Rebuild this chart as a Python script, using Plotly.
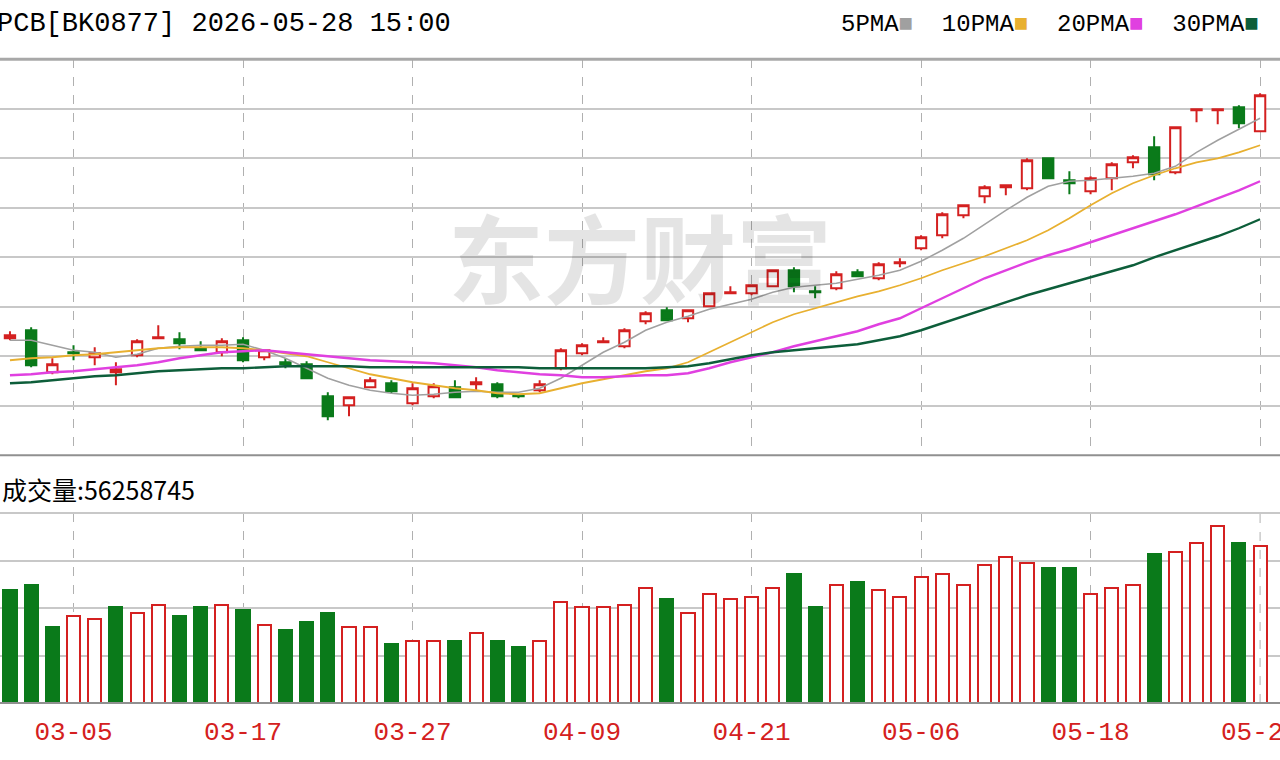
import plotly.graph_objects as go

# daily bars, index 0..59 (03-02 .. 05-28)
opens = [1117, 1125, 1083, 1103, 1098, 1083, 1100, 1117, 1116, 1107, 1103, 1115, 1098, 1093, 1091, 1059, 1050, 1068, 1072, 1052,
         1059, 1068, 1071, 1071, 1060, 1065, 1087, 1102, 1113, 1109, 1134, 1145, 1137, 1149, 1162, 1162, 1169, 1185, 1164, 1167,
         1183, 1177, 1192, 1207, 1220, 1240, 1259, 1268, 1267, 1297, 1275, 1264, 1277, 1293, 1308, 1283, 1345, 1345, 1348, 1324]
highs = [1124, 1128, 1097, 1110, 1108, 1093, 1116, 1130, 1123, 1114, 1117, 1118, 1106, 1097, 1094, 1063, 1058, 1078, 1075, 1072,
         1072, 1075, 1078, 1073, 1061, 1075, 1107, 1112, 1118, 1127, 1144, 1148, 1146, 1163, 1169, 1171, 1186, 1188, 1169, 1184,
         1186, 1193, 1197, 1220, 1243, 1251, 1270, 1270, 1297, 1298, 1284, 1279, 1293, 1300, 1319, 1328, 1346, 1346, 1350, 1362]
lows = [1115, 1088, 1081, 1095, 1090, 1070, 1098, 1117, 1106, 1104, 1099, 1093, 1095, 1087, 1076, 1035, 1039, 1067, 1062, 1050,
        1057, 1057, 1065, 1057, 1057, 1063, 1085, 1100, 1113, 1107, 1131, 1134, 1133, 1148, 1162, 1160, 1168, 1163, 1157, 1165,
        1179, 1175, 1188, 1205, 1217, 1237, 1252, 1260, 1265, 1277, 1261, 1261, 1265, 1287, 1275, 1281, 1333, 1331, 1327, 1324]
closes = [1120, 1090, 1091, 1102, 1102, 1086, 1114, 1118, 1112, 1105, 1114, 1095, 1105, 1091, 1077, 1039, 1058, 1075, 1064, 1067,
          1069, 1058, 1073, 1059, 1059, 1071, 1105, 1110, 1114, 1125, 1142, 1135, 1145, 1162, 1163, 1170, 1185, 1169, 1163, 1181,
          1179, 1191, 1193, 1218, 1241, 1250, 1268, 1270, 1295, 1277, 1272, 1277, 1291, 1298, 1281, 1328, 1346, 1346, 1332, 1360]

ma5 = [1115, 1115, 1110, 1105, 1103, 1098, 1101, 1107, 1109, 1110, 1110, 1111, 1105, 1097, 1087, 1077, 1070, 1065, 1062, 1060,
       1061, 1063, 1064, 1063, 1063, 1067, 1077, 1090, 1103, 1113, 1125, 1133, 1139, 1146, 1151, 1156, 1163, 1168, 1170, 1172,
       1176, 1180, 1185, 1194, 1205, 1217, 1231, 1245, 1258, 1269, 1274, 1275, 1277, 1279, 1282, 1289, 1303, 1315, 1326, 1337]
ma10 = [1095, 1097, 1098, 1100, 1101, 1103, 1105, 1107, 1108, 1108, 1108, 1107, 1105, 1102, 1099, 1093, 1087, 1081, 1077, 1073,
        1070, 1067, 1065, 1062, 1061, 1062, 1067, 1072, 1076, 1080, 1084, 1087, 1093, 1103, 1113, 1123, 1133, 1141, 1147, 1153,
        1159, 1164, 1170, 1177, 1185, 1192, 1199, 1207, 1215, 1225, 1237, 1250, 1262, 1272, 1280, 1287, 1293, 1297, 1303, 1310]
ma20 = [1080, 1081, 1083, 1084, 1086, 1088, 1090, 1093, 1097, 1100, 1103, 1104, 1105, 1103, 1101, 1099, 1097, 1095, 1094, 1093,
        1092, 1090, 1088, 1085, 1083, 1081, 1080, 1078, 1078, 1079, 1080, 1080, 1082, 1087, 1093, 1098, 1103, 1109, 1114, 1119,
        1124, 1131, 1137, 1147, 1157, 1167, 1177, 1185, 1193, 1200, 1206, 1213, 1220, 1227, 1234, 1241, 1249, 1257, 1265, 1274]
ma30 = [1072, 1073, 1075, 1077, 1079, 1080, 1082, 1084, 1085, 1086, 1087, 1087, 1088, 1089, 1089, 1089, 1089, 1088, 1088, 1088,
        1088, 1088, 1088, 1088, 1088, 1087, 1087, 1087, 1087, 1087, 1087, 1088, 1089, 1092, 1096, 1100, 1103, 1105, 1107, 1109,
        1111, 1115, 1119, 1125, 1132, 1139, 1146, 1153, 1160, 1166, 1172, 1178, 1184, 1190, 1198, 1205, 1212, 1219, 1227, 1236]

# volume in millions, and whether the bar is drawn red (up) or green (down)
volume = [40.5, 42.3, 27.2, 31.2, 30.1, 34.4, 32.2, 35.1, 31.2, 34.4, 35.1, 33.3, 27.9, 26.2, 29.0, 32.2, 27.2, 27.2, 21.1, 22.2,
          22.2, 22.2, 25.1, 22.2, 20.1, 22.2, 36.2, 34.4, 34.4, 35.1, 41.2, 37.3, 32.2, 39.1, 37.3, 38.0, 41.2, 46.2, 34.4, 42.3,
          43.4, 40.5, 38.0, 45.1, 46.2, 42.3, 49.4, 52.3, 50.2, 48.4, 48.4, 39.1, 41.2, 42.3, 53.4, 54.1, 57.3, 63.4, 57.3, 56.26]
vol_up = "GGGRRGRRGGRGRGGGRRGRRGRGGRRRRRRGRRRRRGGRGRRRRRRRRGGRRRGRRRGR"

tick_idx = [3, 11, 19, 27, 35, 43, 51, 59]
tick_text = ["03-05", "03-17", "03-27", "04-09", "04-21", "05-06", "05-18", "05-28"]

RED = "#d42020"
GREEN = "#0a7a1a"
x = list(range(len(closes)))

fig = go.Figure()
fig.add_trace(go.Candlestick(
    x=x, open=opens, high=highs, low=lows, close=closes,
    increasing=dict(line=dict(color=RED, width=2), fillcolor="white"),
    decreasing=dict(line=dict(color=GREEN, width=2), fillcolor=GREEN),
    whiskerwidth=0, xaxis="x", yaxis="y", showlegend=False))

for vals, col, w in [(ma5, "#a0a0a0", 1.5), (ma10, "#e8b030", 1.8), (ma20, "#e040e0", 2.4), (ma30, "#0d5e3a", 2.4)]:
    fig.add_trace(go.Scatter(x=x, y=vals, mode="lines", line=dict(color=col, width=w),
                             xaxis="x", yaxis="y", showlegend=False, hoverinfo="skip"))

fig.add_trace(go.Bar(
    x=x, y=volume, width=0.62, xaxis="x2", yaxis="y2", showlegend=False,
    marker=dict(color=["white" if c == "R" else GREEN for c in vol_up],
                line=dict(color=[RED if c == "R" else GREEN for c in vol_up], width=2))))

xr = [-0.47, 59.94]
grid_v = dict(tickvals=tick_idx, showgrid=True, gridcolor="#b0b0b0", griddash="dash", gridwidth=1)
fig.update_layout(
    width=1280, height=760, margin=dict(l=0, r=0, t=0, b=0),
    paper_bgcolor="white", plot_bgcolor="white",
    font=dict(family="Liberation Mono", color="black"),
    bargap=0,
    xaxis=dict(domain=[0, 1], range=xr, anchor="y", showticklabels=False, rangeslider=dict(visible=False),
               zeroline=False, **grid_v),
    yaxis=dict(domain=[0.401, 0.922], range=[1000, 1396], tick0=1000, dtick=49.5, showticklabels=False,
               gridcolor="#c8c8c8", gridwidth=2, zeroline=False),
    xaxis2=dict(domain=[0, 1], range=xr, anchor="y2", ticktext=tick_text[:-1], tickvals=tick_idx[:-1],
                ticks="outside", ticklen=5, tickcolor="rgba(0,0,0,0)",
                tickmode="array", tickfont=dict(size=26, color=RED, family="Liberation Mono"), zeroline=False,
                showgrid=True, gridcolor="#b0b0b0", griddash="dash", gridwidth=1),
    yaxis2=dict(domain=[0.075, 0.325], range=[0, 68.1], tick0=0, dtick=17.02, showticklabels=False,
                gridcolor="#c8c8c8", gridwidth=2, zeroline=False),
)

# last date label runs off the right edge, as in the source
fig.add_annotation(x=tick_idx[-1], xref="x2", yref="paper", y=0.036, yanchor="middle", showarrow=False,
                   text=tick_text[-1], font=dict(size=26, color=RED, family="Liberation Mono"))
fig.add_shape(type="line", xref="x2", yref="paper", x0=tick_idx[-1], x1=tick_idx[-1], y0=0.075, y1=0.325,
              line=dict(color="#b0b0b0", width=1, dash="dash"))

for yy, col, w in [(0.922, "#a8a8a8", 3), (0.401, "#909090", 2), (0.325, "#c8c8c8", 2), (0.075, "#909090", 2)]:
    fig.add_shape(type="line", xref="paper", yref="paper", x0=0, x1=1, y0=yy, y1=yy, line=dict(color=col, width=w))

fig.add_annotation(xref="paper", yref="paper", x=-0.004, y=0.968, xanchor="left", yanchor="middle", showarrow=False,
                   text="PCB[BK0877] 2026-05-28 15:00", font=dict(size=27, family="Liberation Mono"))
fig.add_annotation(xref="paper", yref="paper", x=0.985, y=0.968, xanchor="right", yanchor="middle", showarrow=False,
                   text="5PMA<span style='color:#a0a0a0'>■</span>  10PMA<span style='color:#e8b030'>■</span>  "
                        "20PMA<span style='color:#e040e0'>■</span>  30PMA<span style='color:#0d5e3a'>■</span>",
                   font=dict(size=24, family="Liberation Mono"))
fig.add_annotation(xref="paper", yref="paper", x=0, y=0.357, xanchor="left", yanchor="middle", showarrow=False,
                   text="成交量:56258745", font=dict(size=25, family="Noto Sans CJK SC"))
fig.add_annotation(xref="paper", yref="paper", x=0.5, y=0.665, xanchor="center", yanchor="middle", showarrow=False,
                   text="<b>东方财富</b>", opacity=0.1, font=dict(size=96, color="black", family="Noto Sans CJK SC"))

fig.write_html("out.html", config={"displayModeBar": False}, post_script="document.body.style.margin='0';")
